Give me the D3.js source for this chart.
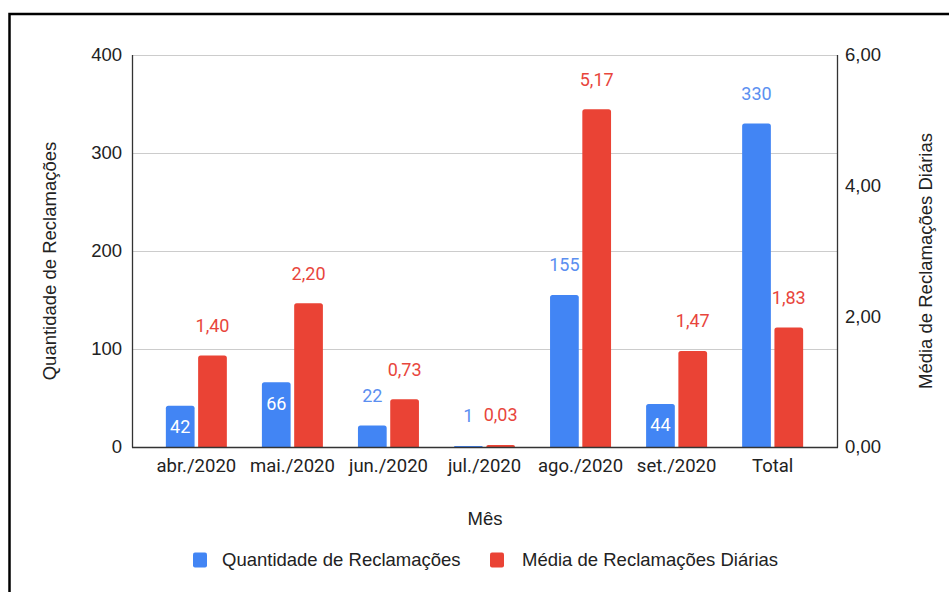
<!DOCTYPE html>
<html><head><meta charset="utf-8">
<script src="https://cdn.jsdelivr.net/npm/d3@7"></script>
<style>
html,body{margin:0;padding:0;background:#fff;}
svg{display:block;}
</style></head>
<body>
<svg id="chart" width="949" height="592"></svg>
<script>
const categories = ["abr./2020","mai./2020","jun./2020","jul./2020","ago./2020","set./2020","Total"];
const quantidade = [42, 66, 22, 1, 155, 44, 330];
const mediaDiaria = [1.40, 2.20, 0.73, 0.03, 5.17, 1.47, 1.83];
const leftTicks = [0, 100, 200, 300, 400];
const rightTicks = [0, 2, 4, 6];
const seriesNames = ["Quantidade de Reclamações", "Média de Reclamações Diárias"];
const insideLabelCats = ["abr./2020","mai./2020","set./2020"];

const colors = ["#4285F4", "#EA4335"];
const labelColors = ["#5b8ff0", "#e8453c"];
const W = 949, H = 592;
const m = {left: 132, right: 837, top: 55, bottom: 447};
const svg = d3.select("#chart");
const fontA = "'Liberation Sans', Arial, sans-serif";
const fontR = "Roboto, 'Liberation Sans', Arial, sans-serif";
const FS = 18.5;

// border
svg.append("path").attr("d", `M9.5,${H} L9.5,14 L${W},14`).attr("fill","none").attr("stroke","#000").attr("stroke-width",2.5);

const x = d3.scaleBand().domain(categories).range([m.left, m.right]).paddingInner(0).paddingOuter(0.17);
const x1 = d3.scaleBand().domain([0,1]).range([-30.5, 30.5]).paddingInner(0.11);
const yL = d3.scaleLinear().domain([0, 400]).range([m.bottom, m.top]);
const yR = d3.scaleLinear().domain([0, 6]).range([m.bottom, m.top]);

// gridlines
svg.append("g").selectAll("line").data(leftTicks.filter(t => t > 0)).join("line")
  .attr("x1", m.left).attr("x2", m.right)
  .attr("y1", d => yL(d)+0.5).attr("y2", d => yL(d)+0.5)
  .attr("stroke", "#cccccc").attr("stroke-width", 1);

function roundTopBar(x0, y0, w, h, r) {
  r = Math.min(r, h, w/2);
  return `M${x0},${y0+h} L${x0},${y0+r} Q${x0},${y0} ${x0+r},${y0} L${x0+w-r},${y0} Q${x0+w},${y0} ${x0+w},${y0+r} L${x0+w},${y0+h} Z`;
}

const groups = svg.append("g").selectAll("g").data(categories).join("g")
  .attr("transform", d => `translate(${x(d) + x.bandwidth()/2},0)`);

groups.append("path").attr("fill", colors[0])
  .attr("d", (d,i) => roundTopBar(x1(0), yL(quantidade[i]), x1.bandwidth(), m.bottom - yL(quantidade[i]), 2.5));
groups.append("path").attr("fill", colors[1])
  .attr("d", (d,i) => roundTopBar(x1(1), yR(mediaDiaria[i]), x1.bandwidth(), m.bottom - yR(mediaDiaria[i]), 2.5));

const fmt2 = v => d3.format(".2f")(v).replace(".", ",");

groups.append("text")
  .attr("x", x1(0) + x1.bandwidth()/2)
  .attr("y", (d,i) => insideLabelCats.includes(d) ? yL(quantidade[i]) + 21 : yL(quantidade[i]) - 30)
  .attr("dy", "0.35em").attr("text-anchor", "middle")
  .attr("font-family", fontR).attr("font-size", 18)
  .attr("fill", d => insideLabelCats.includes(d) ? "#ffffff" : labelColors[0])
  .text((d,i) => quantidade[i]);
groups.append("text")
  .attr("x", x1(1) + x1.bandwidth()/2)
  .attr("y", (d,i) => yR(mediaDiaria[i]) - 30)
  .attr("dy", "0.35em").attr("text-anchor", "middle")
  .attr("font-family", fontR).attr("font-size", 18)
  .attr("fill", labelColors[1])
  .text((d,i) => fmt2(mediaDiaria[i]));

// axis lines
svg.append("line").attr("x1", m.left+0.5).attr("x2", m.left+0.5).attr("y1", m.top).attr("y2", m.bottom+0.5).attr("stroke","#333").attr("stroke-width",1.3);
svg.append("line").attr("x1", m.right+0.5).attr("x2", m.right+0.5).attr("y1", m.top).attr("y2", m.bottom+0.5).attr("stroke","#333").attr("stroke-width",1.3);
svg.append("line").attr("x1", m.left).attr("x2", m.right+1).attr("y1", m.bottom+0.5).attr("y2", m.bottom+0.5).attr("stroke","#333").attr("stroke-width",1.3);

const axL = d3.axisLeft(yL).tickValues(leftTicks).tickSize(0).tickPadding(10).tickFormat(d3.format("d"));
const gL = svg.append("g").attr("transform", `translate(${m.left},0)`).call(axL);
gL.select(".domain").remove();
gL.selectAll("text").attr("font-family", fontA).attr("font-size", FS).attr("fill", "#222");

const axR = d3.axisRight(yR).tickValues(rightTicks).tickSize(0).tickPadding(8).tickFormat(fmt2);
const gR = svg.append("g").attr("transform", `translate(${m.right},0)`).call(axR);
gR.select(".domain").remove();
gR.selectAll("text").attr("font-family", fontA).attr("font-size", FS).attr("fill", "#222");

const axB = d3.axisBottom(x).tickSize(0).tickPadding(12);
const gB = svg.append("g").attr("transform", `translate(0,${m.bottom})`).call(axB);
gB.select(".domain").remove();
gB.selectAll("text").attr("font-family", fontR).attr("font-size", FS).attr("fill", "#222");

// axis titles
svg.append("text").attr("transform", `translate(56,261) rotate(-90)`)
  .attr("text-anchor","middle").attr("font-family", fontA).attr("font-size", FS).attr("fill","#222")
  .text(seriesNames[0]);
svg.append("text").attr("transform", `translate(932,261) rotate(-90)`)
  .attr("text-anchor","middle").attr("font-family", fontA).attr("font-size", FS).attr("fill","#222")
  .text(seriesNames[1]);
svg.append("text").attr("x", 485).attr("y", 525)
  .attr("text-anchor","middle").attr("font-family", fontA).attr("font-size", FS).attr("fill","#222")
  .text("Mês");

// legend
const legendX = [193, 490];
const lg = svg.append("g").selectAll("g").data(seriesNames).join("g")
  .attr("transform", (d,i) => `translate(${legendX[i]},560)`);
lg.append("rect").attr("x",0).attr("y",-7.5).attr("width",14).attr("height",15).attr("rx",2).attr("fill",(d,i)=>colors[i]);
lg.append("text").attr("x", (d,i) => i===0 ? 29 : 32).attr("y", 0).attr("dy","0.35em")
  .attr("font-family", fontA).attr("font-size", FS).attr("fill","#222").text(d => d);
</script>
</body></html>
